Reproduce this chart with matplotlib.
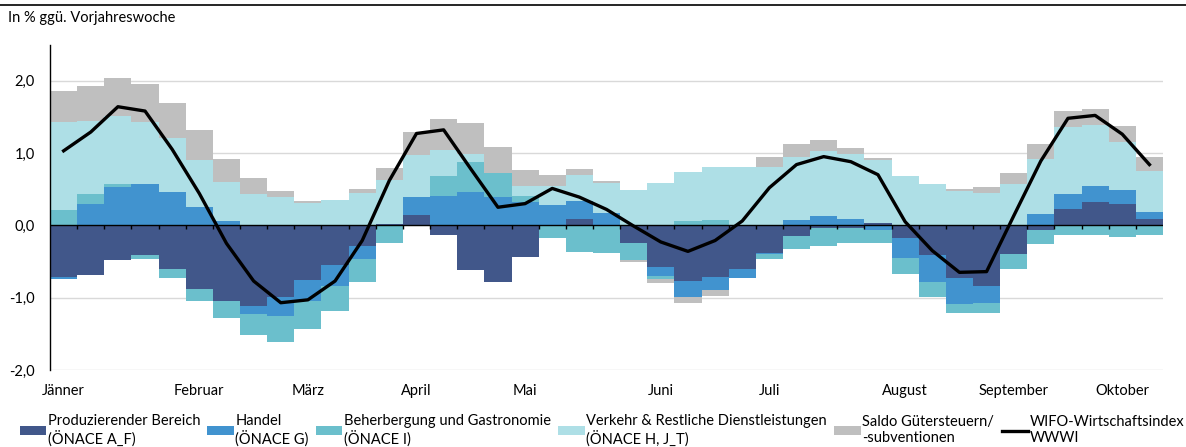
import numpy as np
import matplotlib
matplotlib.use("Agg")
import matplotlib.pyplot as plt
from matplotlib.lines import Line2D
from matplotlib.ticker import FuncFormatter

plt.rcParams['font.family'] = ['Lato', 'DejaVu Sans']
plt.rcParams['font.size'] = 10.5

# weekly contributions, % vs. same week of previous year (41 weeks)
prod = [-0.715, -0.69, -0.48, -0.415, -0.61, -0.88, -1.05, -1.11, -0.99, -0.75,
        -0.545, -0.28, 0.02, 0.14, -0.14, -0.62, -0.79, -0.44, 0.0, 0.09,
        0.0, -0.245, -0.57, -0.775, -0.715, -0.60, -0.38, -0.15, -0.03, -0.03,
        0.03, -0.175, -0.415, -0.725, -0.845, -0.39, -0.07, 0.23, 0.32, 0.30,
        0.09]
handel = [-0.03, 0.29, 0.53, 0.57, 0.46, 0.26, 0.055, -0.115, -0.27, -0.30,
          -0.29, -0.185, 0.0, 0.25, 0.40, 0.457, 0.39, 0.32, 0.277, 0.245,
          0.165, 0.0, -0.125, -0.21, -0.185, -0.125, -0.02, 0.07, 0.13, 0.083,
          -0.06, -0.277, -0.37, -0.36, -0.225, 0.0, 0.15, 0.21, 0.22, 0.185,
          0.09]
beherb = [0.21, 0.14, 0.04, -0.05, -0.115, -0.17, -0.23, -0.29, -0.355, -0.39,
          -0.355, -0.32, -0.245, 0.0, 0.277, 0.42, 0.34, 0.09, -0.175, -0.37,
          -0.38, -0.24, -0.045, 0.06, 0.07, 0.01, -0.06, -0.18, -0.25, -0.21,
          -0.19, -0.217, -0.2, -0.125, -0.14, -0.22, -0.195, -0.14, -0.14, -0.16,
          -0.14]
verkehr = [1.22, 1.01, 0.94, 0.86, 0.75, 0.65, 0.545, 0.44, 0.39, 0.31,
           0.35, 0.45, 0.61, 0.58, 0.37, 0.115, 0.0, 0.13, 0.273, 0.355,
           0.42, 0.49, 0.585, 0.68, 0.74, 0.79, 0.81, 0.87, 0.895, 0.905,
           0.88, 0.68, 0.577, 0.475, 0.45, 0.577, 0.77, 0.92, 0.845, 0.67,
           0.57]
saldo = [0.43, 0.48, 0.53, 0.52, 0.48, 0.41, 0.32, 0.22, 0.08, 0.03,
         0.0, 0.055, 0.165, 0.32, 0.425, 0.42, 0.35, 0.22, 0.14, 0.09,
         0.03, -0.025, -0.055, -0.09, -0.08, 0.0, 0.13, 0.19, 0.15, 0.083,
         0.015, 0.0, 0.0, 0.03, 0.08, 0.15, 0.2, 0.22, 0.22, 0.22,
         0.2]
wwwi = [1.03, 1.29, 1.64, 1.58, 1.05, 0.44, -0.25, -0.77, -1.07, -1.03,
        -0.77, -0.21, 0.62, 1.27, 1.32, 0.78, 0.25, 0.30, 0.51, 0.39,
        0.22, -0.01, -0.23, -0.36, -0.21, 0.06, 0.52, 0.84, 0.95, 0.88,
        0.70, 0.05, -0.35, -0.65, -0.64, 0.13, 0.89, 1.48, 1.52, 1.26,
        0.84]

month_pos = [0, 5, 9, 13, 17, 22, 26, 31, 35, 39]
months = ["Jänner", "Februar", "März", "April", "Mai", "Juni", "Juli",
          "August", "September", "Oktober"]

series = [
    (prod, "#41578a", "Produzierender Bereich\n(ÖNACE A_F)"),
    (handel, "#4193cf", "Handel\n(ÖNACE G)"),
    (beherb, "#6bbfcc", "Beherbergung und Gastronomie\n(ÖNACE I)"),
    (verkehr, "#aedfe6", "Verkehr & Restliche Dienstleistungen\n(ÖNACE H, J_T)"),
    (saldo, "#bfbfbf", "Saldo Gütersteuern/\n-subventionen"),
]

fig = plt.figure(figsize=(11.86, 4.47), dpi=100)
ax = fig.add_axes([0.0422, 0.1723, 0.9384, 0.7281])

x = np.arange(len(prod))
pos_base = np.zeros(len(x))
neg_base = np.zeros(len(x))
handles = []
for vals, col, lab in series:
    v = np.array(vals)
    bottom = np.where(v >= 0, pos_base, neg_base)
    b = ax.bar(x, v, width=1.0, bottom=bottom, color=col, linewidth=0, label=lab, zorder=2)
    handles.append(b)
    pos_base += np.where(v >= 0, v, 0)
    neg_base += np.where(v < 0, v, 0)

ln, = ax.plot(x, wwwi, color="black", lw=2.4, label="WIFO-Wirtschaftsindex\nWWWI", zorder=5)
handles.append(ln)

ymin, ymax = -2.0, 2.5
ax.set_xlim(-0.5, len(x) - 0.5)
ax.set_ylim(ymin, ymax)
ax.set_yticks([-2, -1, 0, 1, 2])
ax.yaxis.set_major_formatter(FuncFormatter(lambda v, p: f"{v:.1f}".replace(".", ",")))
ax.grid(axis="y", color="#d9d9d9", lw=1.0, zorder=0)
ax.axhline(0, color="black", lw=1.0, zorder=3)

# category boundary ticks on the zero line
ax.vlines(np.arange(0.5, len(x) - 1, 1.0), 0, -0.055, color="black", lw=1.0, zorder=3)

for s in ["top", "right", "bottom"]:
    ax.spines[s].set_visible(False)
ax.spines["left"].set_color("black")
ax.spines["left"].set_linewidth(1.0)
ax.tick_params(axis="y", length=0, pad=11)

ax.set_xticks(month_pos)
ax.set_xticklabels(months)
ax.tick_params(axis="x", length=0, pad=10)

fig.add_artist(Line2D([0, 1], [0.989, 0.989], color="black", lw=1.2))
fig.text(0.007, 0.96, "In % ggü. Vorjahreswoche", va="center", ha="left")

fig.legend(handles=handles, loc="lower left", bbox_to_anchor=(0.008, -0.022), ncol=6,
           frameon=False, handlelength=1.8, handleheight=0.6, handletextpad=0.12,
           columnspacing=0.5, labelspacing=0.2, borderpad=0.2)

fig.savefig("out.png", dpi=100)
